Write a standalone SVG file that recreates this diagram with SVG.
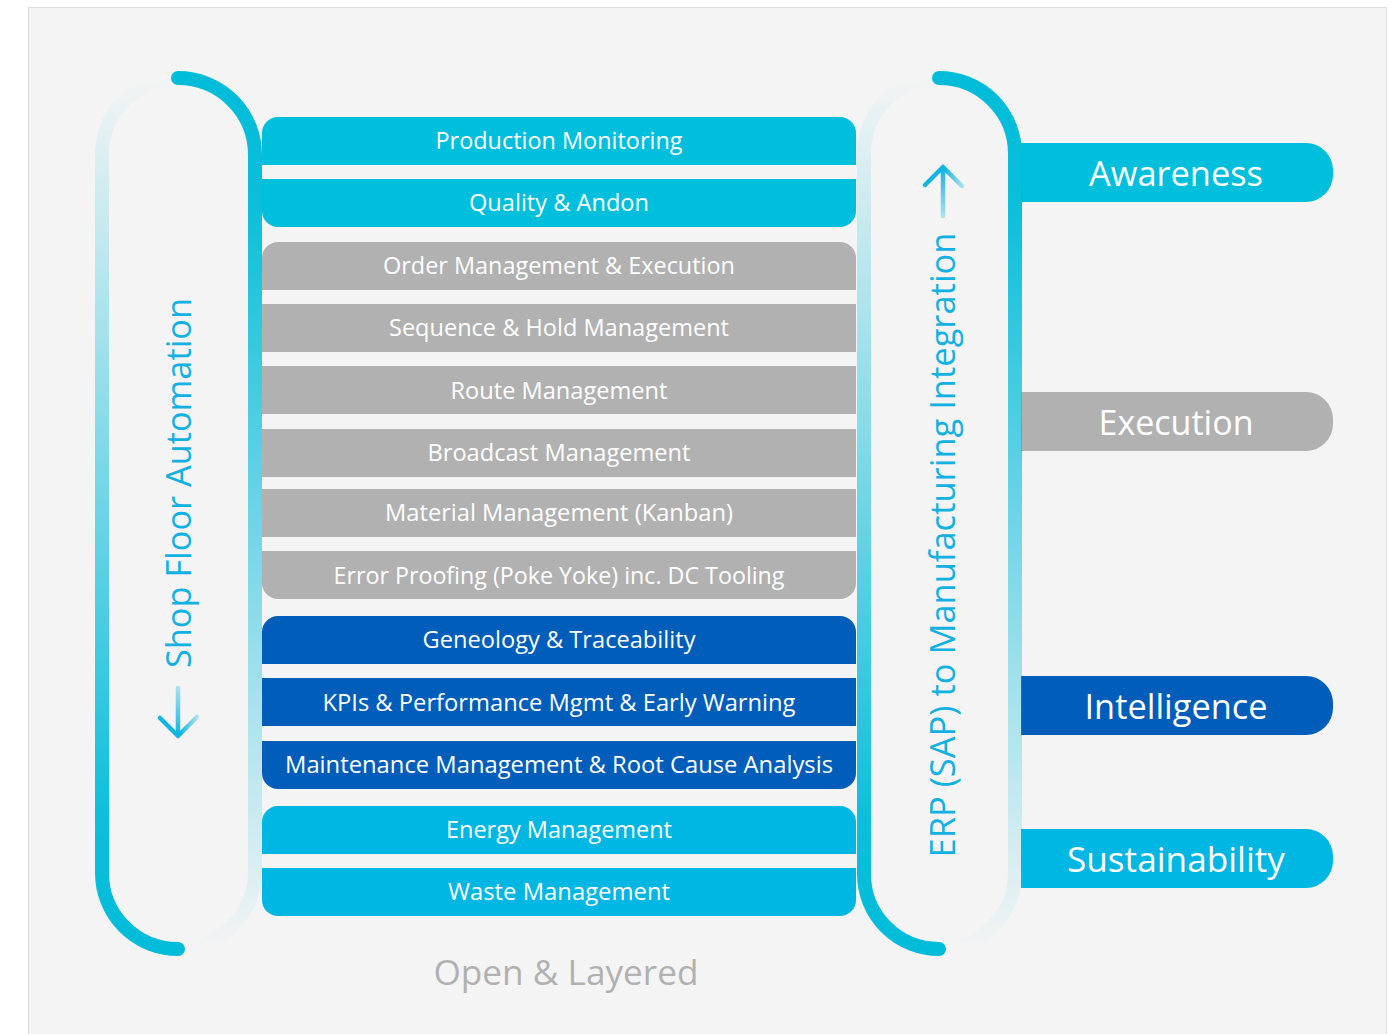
<svg xmlns="http://www.w3.org/2000/svg" width="1394" height="1034" viewBox="0 0 1394 1034">
  <defs>
    <linearGradient id="gDown" gradientUnits="userSpaceOnUse" x1="0" y1="78" x2="0" y2="949">
      <stop offset="0" stop-color="#00bcd9" stop-opacity="1"/>
      <stop offset="0.15" stop-color="#00bcd9" stop-opacity="0.95"/>
      <stop offset="1" stop-color="#00bcd9" stop-opacity="0"/>
    </linearGradient>
    <linearGradient id="gUp" gradientUnits="userSpaceOnUse" x1="0" y1="949" x2="0" y2="78">
      <stop offset="0" stop-color="#00bcd9" stop-opacity="1"/>
      <stop offset="0.15" stop-color="#00bcd9" stop-opacity="0.95"/>
      <stop offset="1" stop-color="#00bcd9" stop-opacity="0"/>
    </linearGradient>
    <linearGradient id="gShaftL" gradientUnits="userSpaceOnUse" x1="0" y1="735" x2="0" y2="686">
      <stop offset="0" stop-color="#12b4e2"/>
      <stop offset="1" stop-color="#12b4e2" stop-opacity="0.3"/>
    </linearGradient>
    <linearGradient id="gShaftR" gradientUnits="userSpaceOnUse" x1="0" y1="168" x2="0" y2="218">
      <stop offset="0" stop-color="#12b4e2"/>
      <stop offset="1" stop-color="#12b4e2" stop-opacity="0.3"/>
    </linearGradient>
    <linearGradient id="gArmL" gradientUnits="userSpaceOnUse" x1="180" y1="0" x2="199" y2="0">
      <stop offset="0" stop-color="#12b4e2"/>
      <stop offset="1" stop-color="#12b4e2" stop-opacity="0.25"/>
    </linearGradient>
    <linearGradient id="gArmR" gradientUnits="userSpaceOnUse" x1="945" y1="0" x2="964" y2="0">
      <stop offset="0" stop-color="#12b4e2"/>
      <stop offset="1" stop-color="#12b4e2" stop-opacity="0.25"/>
    </linearGradient>
    <style>
      .bar text, .lbl text { font-family: "Open Sans", "Noto Sans", sans-serif; fill: #ffffff; text-anchor: middle; }
      .bar text { font-size: 23px; }
      .lbl text { font-size: 35px; }
      .c1 { fill: #00bfdd; }
      .c2 { fill: #b1b1b1; }
      .c3 { fill: #005db9; }
      .c4 { fill: #00b6e2; }
      .brk { fill: none; stroke-width: 14; stroke-linecap: round; }
      .arr { fill: none; stroke-width: 4.5; stroke-linecap: round; stroke-linejoin: round; }
      .vt { font-family: "Open Sans", "Noto Sans", sans-serif; font-size: 34px; fill: #12b1e3; text-anchor: middle; }
    </style>
  </defs>

  <rect x="0" y="0" width="1394" height="1034" fill="#ffffff"/>
  <rect x="28.5" y="7.5" width="1358" height="1030" fill="#f4f4f4" stroke="#dedede" stroke-width="1"/>

  <g id="label-awareness" class="lbl">
    <path class="c1" d="M1021,143 H1306 A27,27 0 0 1 1333,170 V175 A27,27 0 0 1 1306,202 H1021 Z"/>
    <text x="1176" y="186" textLength="174" lengthAdjust="spacingAndGlyphs">Awareness</text>
  </g>
  <g id="label-execution" class="lbl">
    <path class="c2" d="M1021,392 H1306 A27,27 0 0 1 1333,419 V424 A27,27 0 0 1 1306,451 H1021 Z"/>
    <text x="1176" y="435" textLength="155" lengthAdjust="spacingAndGlyphs">Execution</text>
  </g>
  <g id="label-intelligence" class="lbl">
    <path class="c3" d="M1021,676 H1306 A27,27 0 0 1 1333,703 V708 A27,27 0 0 1 1306,735 H1021 Z"/>
    <text x="1176" y="719" textLength="183" lengthAdjust="spacingAndGlyphs">Intelligence</text>
  </g>
  <g id="label-sustainability" class="lbl">
    <path class="c4" d="M1021,829 H1306 A27,27 0 0 1 1333,856 V861 A27,27 0 0 1 1306,888 H1021 Z"/>
    <text x="1176" y="872" textLength="218" lengthAdjust="spacingAndGlyphs">Sustainability</text>
  </g>

  <g id="connectors">
    <path class="brk" stroke="url(#gDown)" d="M178,78 A77,77 0 0 1 255,155 V872 A77,77 0 0 1 178,949"/>
    <path class="brk" stroke="url(#gUp)" d="M178,949 A76,76 0 0 1 102,873 V154 A76,76 0 0 1 178,78"/>
    <path class="brk" stroke="url(#gDown)" d="M939,78 A76,76 0 0 1 1015,154 V873 A76,76 0 0 1 939,949"/>
    <path class="brk" stroke="url(#gUp)" d="M939,949 A75,75 0 0 1 864,874 V153 A75,75 0 0 1 939,78"/>
    <line class="arr" stroke="url(#gShaftL)" x1="178" y1="688" x2="178" y2="734"/>
    <polyline class="arr" stroke="url(#gArmL)" points="160,718 178,736 197,717"/>
    <line class="arr" stroke="url(#gShaftR)" x1="943" y1="169" x2="943" y2="216"/>
    <polyline class="arr" stroke="url(#gArmR)" points="925,185 943,167 962,186"/>
  </g>

  <g id="label-shop-floor">
    <text class="vt" transform="translate(191,483) rotate(-90)" textLength="370" lengthAdjust="spacingAndGlyphs">Shop Floor Automation</text>
  </g>
  <g id="label-erp">
    <text class="vt" transform="translate(955,545) rotate(-90)" textLength="625" lengthAdjust="spacingAndGlyphs">ERP (SAP) to Manufacturing Integration</text>
  </g>

  <g id="bar-production-monitoring" class="bar">
    <path class="c1" d="M262,165 V133 A16,16 0 0 1 278,117 H840 A16,16 0 0 1 856,133 V165 Z"/>
    <text x="559" y="149" textLength="247" lengthAdjust="spacingAndGlyphs">Production Monitoring</text>
  </g>
  <g id="bar-quality-andon" class="bar">
    <path class="c1" d="M262,179 H856 V211 A16,16 0 0 1 840,227 H278 A16,16 0 0 1 262,211 Z"/>
    <text x="559" y="211" textLength="180" lengthAdjust="spacingAndGlyphs">Quality &amp; Andon</text>
  </g>
  <g id="bar-order-management" class="bar">
    <path class="c2" d="M262,290 V258 A16,16 0 0 1 278,242 H840 A16,16 0 0 1 856,258 V290 Z"/>
    <text x="559" y="274" textLength="352" lengthAdjust="spacingAndGlyphs">Order Management &amp; Execution</text>
  </g>
  <g id="bar-sequence-hold" class="bar">
    <rect class="c2" x="262" y="304" width="594" height="48"/>
    <text x="559" y="336" textLength="340" lengthAdjust="spacingAndGlyphs">Sequence &amp; Hold Management</text>
  </g>
  <g id="bar-route" class="bar">
    <rect class="c2" x="262" y="366" width="594" height="48"/>
    <text x="559" y="399" textLength="217" lengthAdjust="spacingAndGlyphs">Route Management</text>
  </g>
  <g id="bar-broadcast" class="bar">
    <rect class="c2" x="262" y="429" width="594" height="48"/>
    <text x="559" y="461" textLength="263" lengthAdjust="spacingAndGlyphs">Broadcast Management</text>
  </g>
  <g id="bar-material" class="bar">
    <rect class="c2" x="262" y="489" width="594" height="48"/>
    <text x="559" y="521" textLength="348" lengthAdjust="spacingAndGlyphs">Material Management (Kanban)</text>
  </g>
  <g id="bar-error-proofing" class="bar">
    <path class="c2" d="M262,551 H856 V583 A16,16 0 0 1 840,599 H278 A16,16 0 0 1 262,583 Z"/>
    <text x="559" y="584" textLength="451" lengthAdjust="spacingAndGlyphs">Error Proofing (Poke Yoke) inc. DC Tooling</text>
  </g>
  <g id="bar-geneology" class="bar">
    <path class="c3" d="M262,664 V632 A16,16 0 0 1 278,616 H840 A16,16 0 0 1 856,632 V664 Z"/>
    <text x="559" y="648" textLength="273" lengthAdjust="spacingAndGlyphs">Geneology &amp; Traceability</text>
  </g>
  <g id="bar-kpis" class="bar">
    <rect class="c3" x="262" y="678" width="594" height="48"/>
    <text x="559" y="711" textLength="473" lengthAdjust="spacingAndGlyphs">KPIs &amp; Performance Mgmt &amp; Early Warning</text>
  </g>
  <g id="bar-maintenance" class="bar">
    <path class="c3" d="M262,741 H856 V773 A16,16 0 0 1 840,789 H278 A16,16 0 0 1 262,773 Z"/>
    <text x="559" y="773" textLength="548" lengthAdjust="spacingAndGlyphs">Maintenance Management &amp; Root Cause Analysis</text>
  </g>
  <g id="bar-energy" class="bar">
    <path class="c4" d="M262,854 V822 A16,16 0 0 1 278,806 H840 A16,16 0 0 1 856,822 V854 Z"/>
    <text x="559" y="838" textLength="226" lengthAdjust="spacingAndGlyphs">Energy Management</text>
  </g>
  <g id="bar-waste" class="bar">
    <path class="c4" d="M262,868 H856 V900 A16,16 0 0 1 840,916 H278 A16,16 0 0 1 262,900 Z"/>
    <text x="559" y="900" textLength="222" lengthAdjust="spacingAndGlyphs">Waste Management</text>
  </g>

  <g id="label-open-layered">
    <text x="566" y="985" font-family="Open Sans, Noto Sans, sans-serif" font-size="35" fill="#b1b1b1" text-anchor="middle" textLength="265" lengthAdjust="spacingAndGlyphs">Open &amp; Layered</text>
  </g>
</svg>
